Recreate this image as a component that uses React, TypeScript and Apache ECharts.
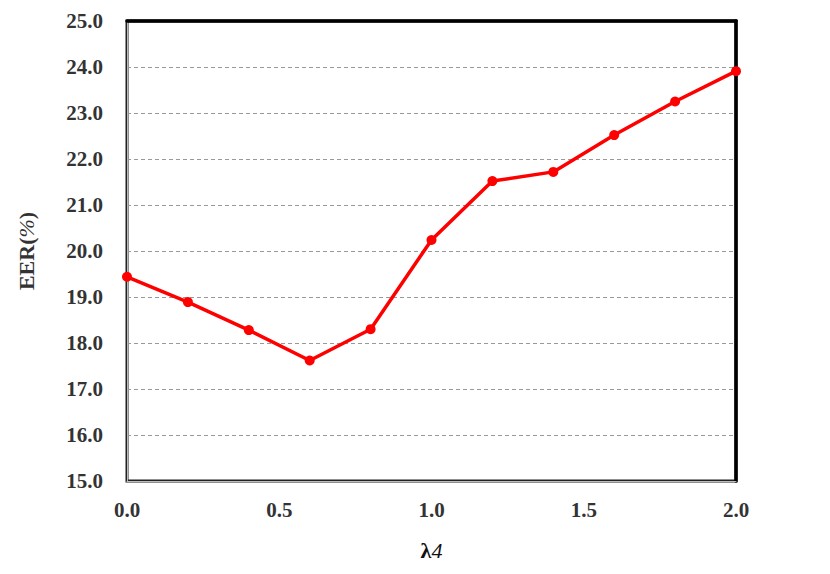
import React, { useEffect, useRef } from "react";
import * as echarts from "echarts";

const lambdaValues = [0, 0.2, 0.4, 0.6, 0.8, 1.0, 1.2, 1.4, 1.6, 1.8, 2.0];
const eerValues = [19.44, 18.89, 18.28, 17.62, 18.3, 20.24, 21.52, 21.72, 22.52, 23.25, 23.91];
const xName = "λ{i|4}";
const yName = "EER({i|%})";

export default function App() {
  const ref = useRef<HTMLDivElement>(null);
  useEffect(() => {
    if (!ref.current) return;
    const chart = echarts.init(ref.current, null, { renderer: "svg" });
    const font = "'Liberation Serif', 'Times New Roman', serif";
    const hidden = {
      axisTick: { show: false },
      axisLabel: { show: false },
      splitLine: { show: false },
    };
    chart.setOption({
      animation: false,
      backgroundColor: "#fff",
      grid: {
        left: 127,
        right: 94,
        top: 21,
        bottom: 93,
        show: true,
        borderColor: "#222",
        borderWidth: 3,
        backgroundColor: "transparent",
      },
      xAxis: [
        {
          type: "value",
          min: 0,
          max: 2,
          interval: 0.5,
          name: xName,
          nameLocation: "middle",
          nameGap: 58,
          nameTextStyle: {
            fontFamily: font,
            fontWeight: "bold",
            fontSize: 22,
            color: "#111",
            rich: { i: { fontFamily: font, fontStyle: "italic", fontWeight: "normal", fontSize: 22, color: "#111" } },
          },
          axisLine: { show: true, lineStyle: { color: "#bbb", width: 1 } },
          axisTick: { show: false },
          splitLine: { show: false },
          axisLabel: {
            formatter: (v: number) => v.toFixed(1),
            fontFamily: font,
            fontWeight: "bold",
            fontSize: 21,
            color: "#333",
            margin: 18,
          },
        },
        {
          type: "value",
          position: "top",
          min: 0,
          max: 2,
          interval: 0.5,
          axisLine: { show: true, onZero: false, lineStyle: { color: "#000", width: 3.5 } },
          ...hidden,
        },
      ],
      yAxis: [
        {
          type: "value",
          min: 15,
          max: 25,
          interval: 1,
          name: yName,
          nameLocation: "middle",
          nameGap: 90,
          nameTextStyle: {
            fontFamily: font,
            fontWeight: "bold",
            fontSize: 22,
            color: "#333",
            rich: { i: { fontFamily: font, fontStyle: "italic", fontWeight: "normal", fontSize: 22, color: "#333" } },
          },
          axisLine: { show: true, lineStyle: { color: "#bbb", width: 1 } },
          axisTick: { show: false },
          splitLine: { show: true, lineStyle: { color: "#999", type: [4, 3], width: 1 } },
          axisLabel: {
            formatter: (v: number) => v.toFixed(1),
            fontFamily: font,
            fontWeight: "bold",
            fontSize: 21,
            color: "#333",
            margin: 24,
          },
        },
        {
          type: "value",
          position: "right",
          min: 15,
          max: 25,
          interval: 1,
          axisLine: { show: true, onZero: false, lineStyle: { color: "#000", width: 3.5 } },
          ...hidden,
        },
      ],
      series: [
        {
          type: "line",
          data: lambdaValues.map((x, i) => [x, eerValues[i]]),
          lineStyle: { color: "#ff0000", width: 3.5 },
          itemStyle: { color: "#ff0000" },
          symbol: "circle",
          symbolSize: 10,
          z: 5,
        },
      ],
    });
    return () => chart.dispose();
  }, []);
  return <div ref={ref} style={{ width: 830, height: 574, position: "absolute", left: 0, top: 0 }} />;
}
